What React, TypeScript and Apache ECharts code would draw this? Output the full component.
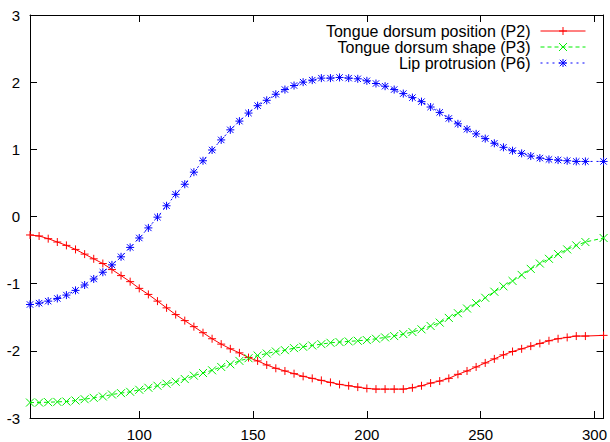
import React, { useEffect, useRef } from "react";
import * as echarts from "echarts";

const xValues = [
  52, 56, 60, 64, 68, 72, 76, 80, 84, 88, 92, 96, 100, 104, 108, 112, 116, 120, 124, 128,
  132, 136, 140, 144, 148, 152, 156, 160, 164, 168, 172, 176, 180, 184, 188, 192, 196, 200,
  204, 208, 212, 216, 220, 224, 228, 232, 236, 240, 244, 248, 252, 256, 260, 264, 268, 272,
  276, 280, 284, 288, 292, 296, 304,
];

const p2Values = [
  -0.275, -0.29, -0.33, -0.38, -0.43, -0.49, -0.56, -0.63, -0.7, -0.79, -0.88, -0.97, -1.07,
  -1.16, -1.26, -1.36, -1.46, -1.55, -1.64, -1.73, -1.82, -1.9, -1.97, -2.03, -2.1, -2.15,
  -2.21, -2.26, -2.3, -2.34, -2.38, -2.41, -2.44, -2.47, -2.5, -2.52, -2.54, -2.56, -2.57,
  -2.57, -2.57, -2.57, -2.55, -2.52, -2.48, -2.45, -2.41, -2.35, -2.3, -2.24, -2.18, -2.12,
  -2.06, -2.01, -1.97, -1.93, -1.89, -1.85, -1.82, -1.8, -1.78, -1.78, -1.77,
];

const p3Values = [
  -2.77, -2.77, -2.765, -2.76, -2.755, -2.74, -2.72, -2.7, -2.68, -2.65, -2.63, -2.61, -2.58,
  -2.55, -2.52, -2.49, -2.46, -2.42, -2.37, -2.33, -2.29, -2.24, -2.2, -2.15, -2.11, -2.07,
  -2.04, -2.01, -1.99, -1.96, -1.94, -1.92, -1.9, -1.88, -1.87, -1.86, -1.85, -1.84, -1.82,
  -1.8, -1.78, -1.75, -1.72, -1.68, -1.63, -1.58, -1.51, -1.44, -1.37, -1.29, -1.21, -1.12,
  -1.04, -0.96, -0.87, -0.78, -0.7, -0.63, -0.56, -0.49, -0.43, -0.38, -0.32,
];

const p6Values = [
  -1.31, -1.29, -1.26, -1.22, -1.17, -1.1, -1.02, -0.93, -0.83, -0.72, -0.6, -0.46, -0.32,
  -0.17, -0.01, 0.16, 0.33, 0.48, 0.66, 0.83, 0.99, 1.14, 1.29, 1.42, 1.54, 1.65, 1.73, 1.82,
  1.89, 1.95, 2.0, 2.03, 2.06, 2.06, 2.07, 2.06, 2.05, 2.02, 1.98, 1.94, 1.89, 1.83, 1.77,
  1.71, 1.63, 1.55, 1.46, 1.38, 1.3, 1.23, 1.16, 1.09, 1.03, 0.98, 0.94, 0.9, 0.87, 0.85,
  0.84, 0.83, 0.82, 0.82, 0.82,
];

const seriesNames = [
  "Tongue dorsum position (P2)",
  "Tongue dorsum shape (P3)",
  "Lip protrusion (P6)",
];

const xTicks = [100, 150, 200, 250, 300];
const yTicks = [-3, -2, -1, 0, 1, 2, 3];

const FONT = "'Liberation Sans', Arial, Helvetica, sans-serif";

const PLUS = "path://M5,0L5,10M0,5L10,5";
const CROSS = "path://M0,0L10,10M10,0L0,10";
const STAR = "path://M5,0L5,10M0,5L10,5M1,1L9,9M9,1L1,9";

function pairs(ys: number[]) {
  return xValues.map((x, i) => [x, ys[i]]);
}

export default function App() {
  const ref = useRef<HTMLDivElement>(null);

  useEffect(() => {
    if (!ref.current) return;
    const chart = echarts.init(ref.current, null, { renderer: "svg" });

    const xAxisBase = {
      type: "value" as const,
      min: 52,
      max: 304,
      axisLine: { show: true, onZero: false, lineStyle: { color: "#000", width: 1 } },
      axisTick: {
        show: true,
        inside: true,
        length: 7,
        customValues: xTicks,
        lineStyle: { color: "#000", width: 1 },
      },
      splitLine: { show: false },
    };
    const yAxisBase = {
      type: "value" as const,
      min: -3,
      max: 3,
      interval: 1,
      axisLine: { show: true, onZero: false, lineStyle: { color: "#000", width: 1 } },
      axisTick: {
        show: true,
        inside: true,
        length: 7,
        customValues: yTicks,
        lineStyle: { color: "#000", width: 1 },
      },
      splitLine: { show: false },
    };

    const mk = (name: string, ys: number[], color: string, symbol: string, dash: any) => ({
      name,
      type: "line" as const,
      data: pairs(ys),
      xAxisIndex: 0,
      yAxisIndex: 0,
      symbol,
      symbolSize: 8,
      showSymbol: true,
      showAllSymbol: true,
      lineStyle: { color, width: 1, type: dash },
      itemStyle: { color, borderColor: color, borderWidth: 1 },
      emphasis: { disabled: true },
      z: 2,
    });

    chart.setOption({
      animation: false,
      backgroundColor: "#fff",
      textStyle: { fontFamily: FONT },
      grid: { left: 30, right: 6, top: 15, bottom: 24, containLabel: false },
      legend: {
        orient: "vertical",
        align: "right",
        right: 24,
        top: 23,
        itemWidth: 45,
        itemHeight: 10,
        itemGap: 0,
        padding: 0,
        selectedMode: false,
        lineStyle: { width: 1 },
        itemStyle: { borderWidth: 1 },
        textStyle: {
          fontFamily: FONT,
          fontSize: 16,
          color: "#000",
          lineHeight: 16,
          padding: [0, 5, 0, 0],
        },
        data: seriesNames,
      },
      xAxis: [
        {
          ...xAxisBase,
          position: "bottom",
          axisLabel: {
            show: true,
            customValues: xTicks,
            margin: 9,
            color: "#000",
            fontSize: 15,
            fontFamily: FONT,
          },
        },
        { ...xAxisBase, position: "top", axisLabel: { show: false } },
      ],
      yAxis: [
        {
          ...yAxisBase,
          position: "left",
          axisLabel: {
            show: true,
            margin: 10,
            color: "#000",
            fontSize: 15,
            fontFamily: FONT,
          },
        },
        { ...yAxisBase, position: "right", axisLabel: { show: false } },
      ],
      series: [
        mk(seriesNames[0], p2Values, "#ff0000", PLUS, "solid"),
        mk(seriesNames[1], p3Values, "#00ee00", CROSS, [4, 3]),
        mk(seriesNames[2], p6Values, "#0000ff", STAR, [2, 4]),
      ],
    });

    return () => chart.dispose();
  }, []);

  return (
    <div
      ref={ref}
      style={{ position: "fixed", left: 0, top: 0, width: 610, height: 442, background: "#fff" }}
    />
  );
}
